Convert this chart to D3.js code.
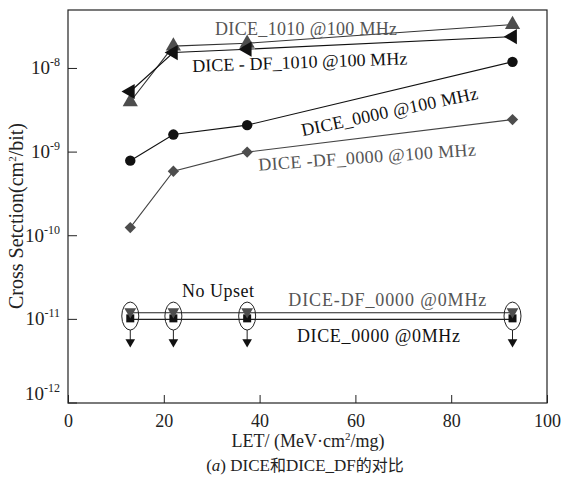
<!DOCTYPE html>
<html>
<head>
<meta charset="utf-8">
<script src="https://cdn.jsdelivr.net/npm/d3@7"></script>
<style>
  body { margin: 0; background: #fff; }
</style>
</head>
<body>
<svg id="chart" width="564" height="484"></svg>
<script>
// data (LET in MeV·cm2/mg, cross section in cm2/bit)
var LET = [13, 22, 37.4, 92.8];
var dice1010 = [4.0e-9, 1.85e-8, 2.0e-8, 3.35e-8];
var diceDF1010 = [5.3e-9, 1.55e-8, 1.7e-8, 2.4e-8];
var dice0000 = [7.9e-10, 1.62e-9, 2.1e-9, 1.2e-8];
var diceDF0000 = [1.25e-10, 5.9e-10, 1.0e-9, 2.45e-9];
// no upset at 0 MHz -> upper limits
var diceDF0000_0 = [1.2e-11, 1.2e-11, 1.2e-11, 1.2e-11];
var dice0000_0 = [1.0e-11, 1.0e-11, 1.0e-11, 1.0e-11];

var xTicks = [0, 20, 40, 60, 80, 100];
var yTicks = [-12, -11, -10, -9, -8];

var W = 564, H = 484;
var margin = {left: 68, right: 17, top: 10, bottom: 81};
var SERIF = 'Liberation Serif';

var svg = d3.select('#chart');

var x = d3.scaleLinear().domain([0, 100]).range([margin.left, W - margin.right]);
var y = d3.scaleLog().domain([1e-12, 5e-8]).range([H - margin.bottom, margin.top]);

//=======================
// frame + axes
//=======================
svg.append('rect')
	.attr('x', margin.left)
	.attr('y', margin.top)
	.attr('width', W - margin.left - margin.right)
	.attr('height', H - margin.top - margin.bottom)
	.attr('fill', 'none')
	.attr('stroke', '#222')
	.attr('stroke-width', 1.2);

var xAxis = svg.append('g')
	.attr('transform', 'translate(0,' + (H - margin.bottom) + ')')
	.call(d3.axisBottom(x).tickValues(xTicks).tickSizeInner(-8).tickSizeOuter(0).tickPadding(11));
xAxis.attr('font-family', SERIF).attr('font-size', 18);
xAxis.select('.domain').remove();
xAxis.selectAll('line').attr('stroke', '#222');
xAxis.selectAll('text')
	.attr('font-family', SERIF)
	.attr('fill', '#222');

// y axis: 10^n labels, ticks inward
var yAxis = svg.append('g');
yTicks.forEach(function (p) {
	var yy = y(Math.pow(10, p));
	yAxis.append('line')
		.attr('x1', margin.left).attr('x2', margin.left + 9)
		.attr('y1', yy).attr('y2', yy)
		.attr('stroke', '#222');
	var base = (p == -12) ? yy - 3 : yy + 6;
	var t = yAxis.append('text')
		.attr('x', margin.left - 8)
		.attr('y', base)
		.attr('text-anchor', 'end')
		.attr('fill', '#222')
		.attr('font-family', SERIF)
		.attr('font-size', 19);
	t.append('tspan').text('10');
	t.append('tspan').attr('dy', -8).attr('font-size', 12).text(String(p));
});

// axis titles
var xt = svg.append('text')
	.attr('x', 308).attr('y', 447)
	.attr('text-anchor', 'middle')
	.attr('font-family', SERIF)
	.attr('font-size', 18)
	.attr('fill', '#222');
xt.append('tspan').text('LET/ (MeV\u00b7cm');
xt.append('tspan').attr('dy', -7).attr('font-size', 11).text('2');
xt.append('tspan').attr('dy', 7).text('/mg)');

var yt = svg.append('text')
	.attr('transform', 'translate(23,216) rotate(-90)')
	.attr('text-anchor', 'middle')
	.attr('font-family', SERIF)
	.attr('font-size', 20)
	.attr('fill', '#222');
yt.append('tspan').text('Cross Setction(cm');
yt.append('tspan').attr('dy', -7).attr('font-size', 11).text('2');
yt.append('tspan').attr('dy', 7).text('/bit)');

var cap = svg.append('text')
	.attr('x', 305).attr('y', 471)
	.attr('text-anchor', 'middle')
	.attr('font-family', SERIF)
	.attr('font-size', 17)
	.attr('fill', '#222');
cap.append('tspan').text('(');
cap.append('tspan').attr('font-style', 'italic').text('a');
cap.append('tspan').text(') DICE');
cap.append('tspan').attr('font-family', 'Noto Sans CJK SC').attr('font-size', 16).text('\u548c');
cap.append('tspan').text('DICE_DF');
cap.append('tspan').attr('font-family', 'Noto Sans CJK SC').attr('font-size', 16).text('\u7684\u5bf9\u6bd4');

//=======================
// series
//=======================
var line = d3.line()
	.x(function (d) { return x(d[0]); })
	.y(function (d) { return y(d[1]); });

var series = [
	{vals: dice1010, color: '#333', mk: '#4d4d4d', sym: d3.symbolTriangle, size: 100, rot: 0},
	{vals: diceDF1010, color: '#111', mk: '#111', sym: d3.symbolTriangle, size: 100, rot: -90},
	{vals: dice0000, color: '#111', mk: '#111', sym: d3.symbolCircle, size: 85, rot: 0},
	{vals: diceDF0000, color: '#444', mk: '#4d4d4d', sym: d3.symbolSquare, size: 64, rot: 45}
];

series.forEach(function (s) {
	var pts = LET.map(function (l, i) { return [l, s.vals[i]]; });
	svg.append('path')
		.datum(pts)
		.attr('d', line)
		.attr('fill', 'none')
		.attr('stroke', s.color)
		.attr('stroke-width', 1.1);
	svg.selectAll(null)
		.data(pts)
		.enter()
		.append('path')
		.attr('d', d3.symbol().type(s.sym).size(s.size))
		.attr('transform', function (d) {
			return 'translate(' + x(d[0]) + ',' + y(d[1]) + ') rotate(' + s.rot + ')';
		})
		.attr('fill', s.mk);
});

// no-upset rows (0 MHz)
[diceDF0000_0, dice0000_0].forEach(function (vals) {
	svg.append('path')
		.datum(LET.map(function (l, i) { return [l, vals[i]]; }))
		.attr('d', line)
		.attr('fill', 'none')
		.attr('stroke', '#222')
		.attr('stroke-width', 1.1);
});

LET.forEach(function (l, i) {
	var cx = x(l);
	var yTop = y(diceDF0000_0[i]);
	var yBot = y(dice0000_0[i]);
	var cy = (yTop + yBot) / 2;
	svg.append('path')
		.attr('d', d3.symbol().type(d3.symbolSquare).size(64))
		.attr('transform', 'translate(' + cx + ',' + (yBot - 1) + ')')
		.attr('fill', '#111');
	svg.append('path')
		.attr('d', d3.symbol().type(d3.symbolTriangle).size(60))
		.attr('transform', 'translate(' + cx + ',' + (yTop - 1) + ') rotate(180)')
		.attr('fill', '#4d4d4d');
	svg.append('ellipse')
		.attr('cx', cx).attr('cy', cy)
		.attr('rx', 8.5).attr('ry', 14)
		.attr('fill', 'none')
		.attr('stroke', '#222')
		.attr('stroke-width', 1);
	// arrow down = upper limit
	svg.append('line')
		.attr('x1', cx).attr('x2', cx)
		.attr('y1', cy + 14).attr('y2', cy + 24)
		.attr('stroke', '#222');
	svg.append('path')
		.attr('d', d3.symbol().type(d3.symbolTriangle).size(40))
		.attr('transform', 'translate(' + cx + ',' + (cy + 26) + ') rotate(180)')
		.attr('fill', '#111');
});

//=======================
// labels
//=======================
var notes = [
	{t: 'DICE_1010 @100 MHz', x: 30.7, y: 2.5e-8, a: 0, c: '#555', w: 182},
	{t: 'DICE - DF_1010 @100 MHz', x: 26.0, y: 9.1e-9, a: -2, c: '#111', w: 215},
	{t: 'DICE_0000 @100 MHz', x: 49.0, y: 1.55e-9, a: -12, c: '#111', w: 180},
	{t: 'DICE -DF_0000 @100 MHz', x: 39.8, y: 6.0e-10, a: -4, c: '#555', w: 218},
	{t: 'No Upset', x: 23.8, y: 1.85e-11, a: 0, c: '#111', w: 72},
	{t: 'DICE-DF_0000 @0MHz', x: 46.0, y: 1.45e-11, a: 0, c: '#555', w: 198},
	{t: 'DICE_0000 @0MHz', x: 47.8, y: 5.4e-12, a: 0, c: '#111', w: 163}
];

svg.selectAll('.note')
	.data(notes)
	.enter()
	.append('text')
	.attr('class', 'note')
	.attr('transform', function (d) {
		return 'translate(' + x(d.x) + ',' + y(d.y) + ') rotate(' + d.a + ')';
	})
	.attr('font-family', SERIF)
	.attr('font-size', 18)
	.attr('fill', function (d) { return d.c; })
	.attr('textLength', function (d) { return d.w; })
	.attr('lengthAdjust', 'spacing')
	.text(function (d) { return d.t; });
</script>
</body>
</html>
